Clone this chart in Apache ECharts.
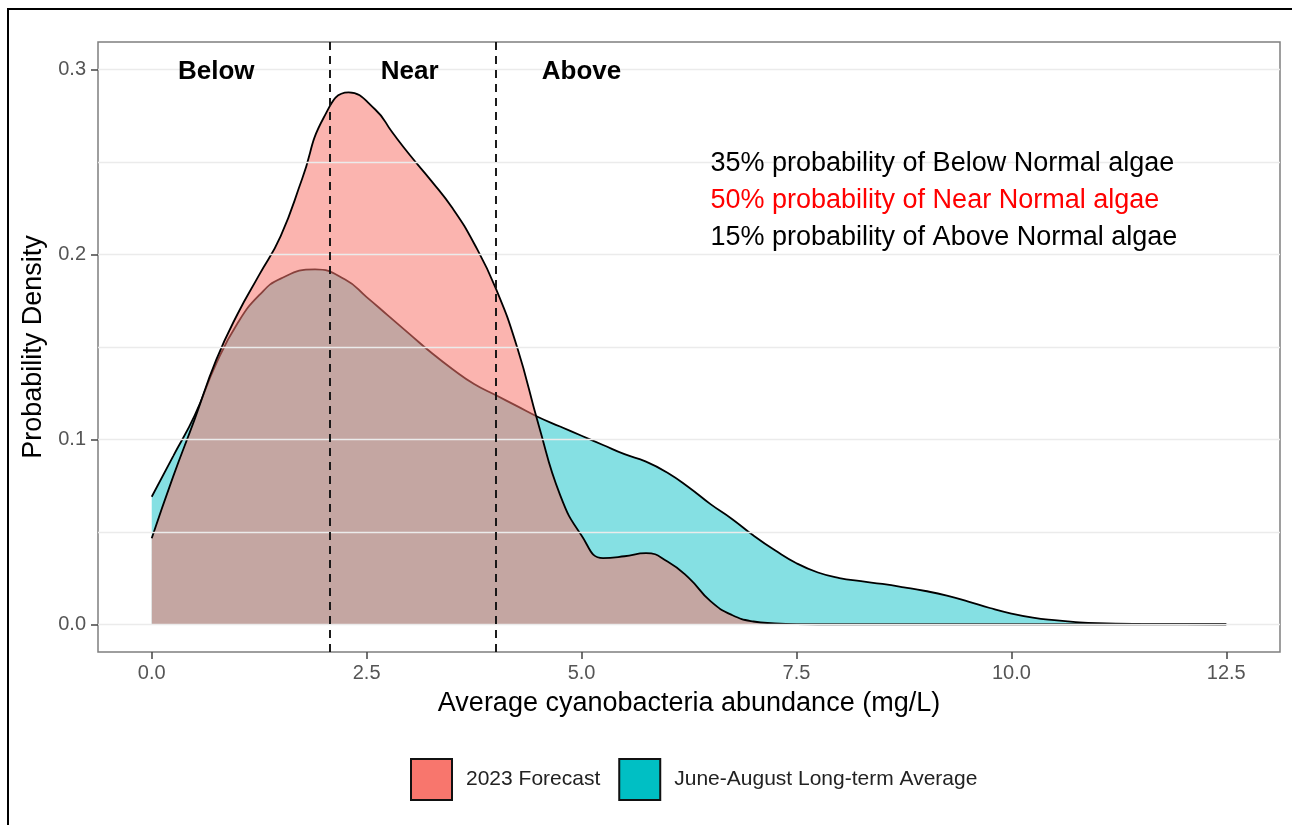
<!DOCTYPE html>
<html>
<head>
<meta charset="utf-8">
<script src="https://cdn.jsdelivr.net/npm/echarts@6/dist/echarts.min.js"></script>
<style>
html,body{margin:0;padding:0;background:#fff;}
#chart{width:1292px;height:825px;}
</style>
</head>
<body>
<div id="chart"></div>
<script>
// ---- data (density estimates) ----
const forecastX = [0, 0.25, 0.5, 0.75, 1, 1.25, 1.5, 1.75, 2, 2.29, 2.6, 2.8, 3, 3.25, 3.5, 3.75, 4, 4.25, 4.5, 4.75, 5, 5.25, 5.5, 5.75, 6, 6.25, 6.5, 6.75, 7, 7.25, 7.5, 8, 9, 10, 11, 12.5];
const forecastY = [0.0465, 0.080, 0.111, 0.143, 0.168, 0.189, 0.210, 0.241, 0.274, 0.2877, 0.2785, 0.266, 0.254, 0.240, 0.225, 0.206, 0.182, 0.150, 0.108, 0.070, 0.048, 0.0358, 0.0368, 0.0385, 0.034, 0.025, 0.0125, 0.005, 0.0015, 0.0005, 0.0001, 0, 0, 0, 0, 0];

const averageX = [0, 0.25, 0.5, 0.75, 1, 1.25, 1.5, 1.9, 2.25, 2.5, 2.75, 3, 3.25, 3.5, 3.75, 4, 4.25, 4.5, 4.75, 5, 5.25, 5.5, 5.75, 6, 6.25, 6.5, 6.75, 7, 7.25, 7.5, 7.75, 8, 8.25, 8.5, 8.75, 9, 9.25, 9.5, 9.75, 10, 10.25, 10.5, 10.75, 11, 11.5, 12, 12.5];
const averageY = [0.069, 0.091, 0.113, 0.141, 0.163, 0.178, 0.187, 0.192, 0.1865, 0.177, 0.167, 0.157, 0.147, 0.138, 0.130, 0.124, 0.118, 0.112, 0.107, 0.102, 0.097, 0.092, 0.088, 0.082, 0.074, 0.065, 0.057, 0.048, 0.040, 0.033, 0.028, 0.025, 0.0233, 0.0218, 0.020, 0.018, 0.0155, 0.0123, 0.0088, 0.0058, 0.0036, 0.0022, 0.0012, 0.0006, 0.0002, 0.0001, 0];

const seriesNames = ['2023 Forecast', 'June-August Long-term Average'];
const thresholds = [2.07, 4.0];
const categoryLabels = ['Below', 'Near', 'Above'];
const categoryLabelX = [0.75, 3.0, 5.0];
const categoryLabelY = 0.299;
const noteTexts = ['35% probability of Below Normal algae', '50% probability of Near Normal algae', '15% probability of Above Normal algae'];
const noteX = 6.5;
const noteY = [0.249, 0.229, 0.209];
const xTicks = [0, 2.5, 5, 7.5, 10, 12.5];
const yTicks = [0, 0.1, 0.2, 0.3];
const yMinorTicks = [0.05, 0.15, 0.25];

const FONT = "'Liberation Sans', Arial, Helvetica, sans-serif";
const pairs = (xs, ys) => xs.map((x, i) => [x, ys[i]]);

const chart = echarts.init(document.getElementById('chart'), null, {renderer: 'canvas'});
chart.setOption({
  animation: false,
  backgroundColor: '#ffffff',
  textStyle: {fontFamily: FONT},
  graphic: [{
    type: 'rect', z: 100,
    shape: {x: 8, y: 9, width: 1400, height: 900},
    style: {fill: 'none', stroke: '#000', lineWidth: 2}
  }],
  grid: {
    left: 98, top: 42, width: 1182, height: 610,
    show: true, borderColor: '#7f7f7f', borderWidth: 1.5, backgroundColor: 'transparent'
  },
  legend: {
    left: 410, top: 758, padding: 0,
    icon: 'rect', itemWidth: 41, itemHeight: 41, itemGap: 18,
    textStyle: {fontFamily: FONT, fontSize: 21, color: '#222', padding: [0, 0, 0, 9]},
    data: [
      {name: seriesNames[0], itemStyle: {color: '#F8766D', borderColor: '#111', borderWidth: 2, opacity: 1}},
      {name: seriesNames[1], itemStyle: {color: '#00BFC4', borderColor: '#111', borderWidth: 2, opacity: 1}}
    ]
  },
  xAxis: {
    type: 'value', min: -0.625, max: 13.125,
    name: 'Average cyanobacteria abundance (mg/L)',
    nameLocation: 'middle', nameGap: 38,
    nameTextStyle: {fontFamily: FONT, fontSize: 27, color: '#000'},
    axisLine: {show: false, onZero: false},
    axisTick: {show: true, length: 7, customValues: xTicks, lineStyle: {color: '#444', width: 1.5}},
    axisLabel: {customValues: xTicks, margin: 11, fontFamily: FONT, fontSize: 20, color: '#555',
      formatter: v => Number(v).toFixed(1)},
    splitLine: {show: false}
  },
  yAxis: {
    type: 'value', min: -0.015, max: 0.315,
    name: 'Probability Density',
    nameLocation: 'middle', nameGap: 48,
    nameTextStyle: {fontFamily: FONT, fontSize: 27, color: '#000'},
    axisLine: {show: false, onZero: false},
    axisTick: {show: true, length: 7, customValues: yTicks, lineStyle: {color: '#444', width: 1.5}},
    axisLabel: {customValues: yTicks, margin: 12, fontFamily: FONT, fontSize: 20, color: '#555',
      formatter: v => Number(v).toFixed(1)},
    splitLine: {show: false}
  },
  series: [
    {
      name: 'grid', type: 'line', data: [], z: 1, silent: true,
      markLine: {
        silent: true, symbol: ['none', 'none'], label: {show: false},
        lineStyle: {color: '#ebebeb', width: 1.3, type: 'solid'},
        data: yTicks.concat(yMinorTicks).map(v => ({yAxis: v}))
      }
    },
    {
      name: seriesNames[1], type: 'line', z: 2,
      data: pairs(averageX, averageY),
      smooth: 0.5, showSymbol: false, symbol: 'none',
      itemStyle: {color: '#00BFC4'},
      lineStyle: {color: '#000', width: 1.8},
      areaStyle: {color: '#00BFC4', opacity: 0.48}
    },
    {
      name: seriesNames[0], type: 'line', z: 3,
      data: pairs(forecastX, forecastY),
      smooth: 0.5, showSymbol: false, symbol: 'none',
      itemStyle: {color: '#F8766D'},
      lineStyle: {color: '#000', width: 1.8},
      areaStyle: {color: '#F8766D', opacity: 0.55}
    },
    {
      name: 'thresholds', type: 'line', data: [], z: 4, silent: true,
      markLine: {
        silent: true, symbol: ['none', 'none'], label: {show: false},
        lineStyle: {color: '#111', width: 1.9, type: [8, 6]},
        data: thresholds.map(v => ({xAxis: v}))
      }
    },
    {
      name: 'categories', type: 'scatter', z: 5, silent: true,
      symbolSize: 0, itemStyle: {opacity: 1, color: 'rgba(0,0,0,0)'},
      data: categoryLabels.map((t, i) => ({value: [categoryLabelX[i], categoryLabelY], name: t})),
      label: {show: true, position: 'top', distance: 0, formatter: p => p.name,
        fontFamily: FONT, fontSize: 26, fontWeight: 'bold', color: '#000', align: 'center', verticalAlign: 'middle'}
    },
    {
      name: 'notes', type: 'scatter', z: 5, silent: true,
      symbolSize: 0, itemStyle: {opacity: 1, color: 'rgba(0,0,0,0)'},
      data: noteTexts.map((t, i) => ({value: [noteX, noteY[i]], name: t,
        label: {color: i === 1 ? '#ff0000' : '#000'}})),
      label: {show: true, position: 'right', distance: 0, formatter: p => p.name,
        fontFamily: FONT, fontSize: 27, align: 'left', verticalAlign: 'middle'}
    }
  ]
});
</script>
</body>
</html>
